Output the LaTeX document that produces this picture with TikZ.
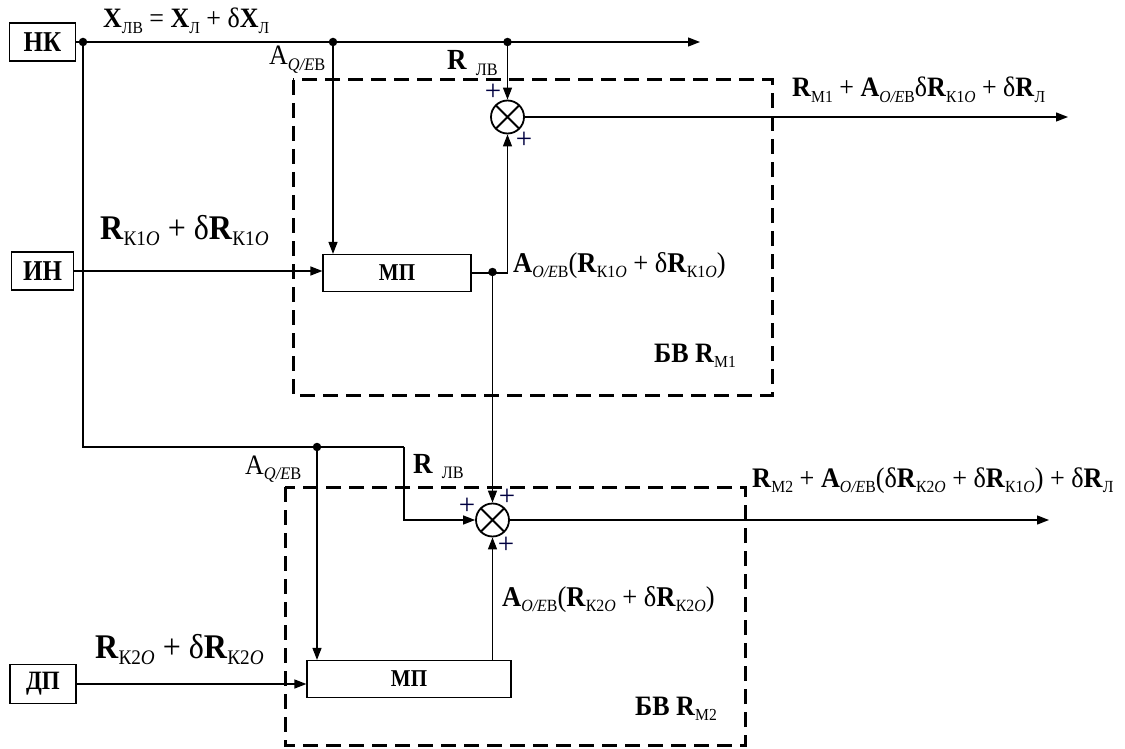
\documentclass[tikz,border=0pt]{standalone}
\usepackage{graphicx}
\usepackage{fontspec}
\setmainfont{Liberation Serif}
\usetikzlibrary{arrows.meta}
\newcommand\fsz[1]{\fontsize{#1}{#1}\selectfont}
\makeatletter
\newcommand\lo[2][0.6]{\raisebox{-0.2em}{\mdseries\upshape\fontsize{\fpeval{#1*\f@size}}{\fpeval{#1*\f@size}}\selectfont #2}}
\makeatother
\newcommand\st[1]{\scalebox{1}[1.08]{#1}}
\newcommand\stb[1]{\scalebox{1}[1.15]{#1}}
\begin{document}
\begin{tikzpicture}[x=1pt,y=-1pt,
  blk/.style={draw, line width=1.2pt, inner sep=0pt, font=\fsz{25}\bfseries},
  wire/.style={line width=1.3pt},
  arr/.style={wire,-{Triangle[length=12pt,width=9pt]}},
  dot/.style={circle, fill, inner sep=0pt, minimum size=8.5pt},
  sumnode/.style={circle, draw, line width=1.8pt, minimum size=33pt, inner sep=0pt,
    path picture={\draw[line width=1.8pt] (path picture bounding box.north west) -- (path picture bounding box.south east)
      (path picture bounding box.north east) -- (path picture bounding box.south west);}},
  dashbox/.style={line width=3pt, dash pattern=on 15pt off 8pt},
  lbl/.style={anchor=base west, inner sep=0pt, font=\fsz{26}},
  pl/.style={inner sep=0pt, font=\fsz{29}, text=black!75!blue}
]
\useasboundingbox (0,0) rectangle (1125,749);
% dashed blocks
\draw[dashbox] (293,80) rectangle (772,395);
\draw[dashbox] (285,487) rectangle (745,745);
% blocks
\node[blk, minimum width=66pt, minimum height=38pt] (nk) at (42.5,42) {\stb{НК}};
\node[blk, minimum width=62pt, minimum height=38pt] (in) at (42.5,271) {\stb{ИН}};
\node[blk, minimum width=66pt, minimum height=39pt, font=\fsz{23}\bfseries] (dp) at (43,684) {\stb{ДП}};
\node[blk, minimum width=148pt, minimum height=37pt, font=\fsz{21}\bfseries] (mp1) at (397,273) {\stb{МП}};
\node[blk, minimum width=204pt, minimum height=37pt, font=\fsz{21}\bfseries] (mp2) at (409,679) {\stb{МП}};
\node[sumnode] (s1) at (507.5,117) {};
\node[sumnode] (s2) at (492.5,520) {};
% dots
\node[dot] (d1) at (83,42) {};
\node[dot] (d2) at (333,42) {};
\node[dot] (d4) at (507.5,42) {};
\node[dot] (d3) at (492.5,272) {};
\node[dot] (d5) at (317,447) {};
\coordinate (topend) at (700,42);
\coordinate (out1) at (1068,117);
\coordinate (out2) at (1049,520);
\coordinate (c2) at (404,447);
% connectors
\draw[arr] (nk.east) -- (topend);
\draw[arr] (d2) -- (d2 |- mp1.north);
\draw[arr] (d4) -- (s1.north);
\draw[arr] (s1.east) -- (out1);
\draw[arr] (in.east) -- (in.east -| mp1.west);
\draw[arr] (mp1.east) -- (mp1.east -| s1.south) -- (s1.south);
\draw[arr] (d3) -- (s2.north);
\draw[wire] (d1) |- (c2);
\draw[arr] (c2) |- (s2.west);
\draw[arr] (d5) -- (d5 |- mp2.north);
\draw[arr] (s2.south |- mp2.north) -- (s2.south);
\draw[arr] (s2.east) -- (out2);
\draw[arr] (dp.east) -- (dp.east -| mp2.west);
% signs
\node[pl] (p1) at (493,92) {+};
\node[pl] (p2) at (524,140) {+};
\node[pl] (p3) at (467,506) {+};
\node[pl] (p4) at (507,497) {+};
\node[pl] (p5) at (506,545) {+};
% labels
\node[lbl] (lx) at (103,28) {\st{\textbf{X}\lo{ЛВ} = \textbf{X}\lo{Л} + δ\textbf{X}\lo{Л}}};
\node[lbl] (la1) at (269,65) {\st{A\lo[0.63]{\textit{Q/E}В}}};
\node[lbl, font=\fsz{27}] (lr1) at (447,70) {\st{\textbf{R}\,\,\lo[0.6]{ЛВ}}};
\node[lbl] (lo1) at (792,97) {\st{\textbf{R}\lo{М1} + \textbf{A}\lo{\textit{O/E}В}δ\textbf{R}\lo{К1\textit{O}} + δ\textbf{R}\lo{Л}}};
\node[lbl, font=\fsz{32}] (lk1) at (100,239) {\st{\textbf{R}\lo{К1\textit{O}} + δ\textbf{R}\lo{К1\textit{O}}}};
\node[lbl, font=\fsz{26.5}] (lm1) at (513,272) {\st{\textbf{A}\lo{\textit{O/E}В}(\textbf{R}\lo{К1\textit{O}} + δ\textbf{R}\lo{К1\textit{O}})}};
\node[lbl] (lb1) at (654,362) {\st{\textbf{БВ R}\lo{М1}}};
\node[lbl] (la2) at (245,474) {\st{A\lo[0.63]{\textit{Q/E}В}}};
\node[lbl, font=\fsz{27}] (lr2) at (413,473) {\st{\textbf{R}\,\,\lo[0.6]{ЛВ}}};
\node[lbl, font=\fsz{26.2}] (lo2) at (752,487) {\st{\textbf{R}\lo{М2} + \textbf{A}\lo{\textit{O/E}В}(δ\textbf{R}\lo{К2\textit{O}} + δ\textbf{R}\lo{К1\textit{O}}) + δ\textbf{R}\lo{Л}}};
\node[lbl, font=\fsz{26.5}] (lm2) at (502,606) {\st{\textbf{A}\lo{\textit{O/E}В}(\textbf{R}\lo{К2\textit{O}} + δ\textbf{R}\lo{К2\textit{O}})}};
\node[lbl, font=\fsz{32}] (lk2) at (95,658) {\st{\textbf{R}\lo{К2\textit{O}} + δ\textbf{R}\lo{К2\textit{O}}}};
\node[lbl] (lb2) at (635,715) {\st{\textbf{БВ R}\lo{М2}}};
\end{tikzpicture}
\end{document}
